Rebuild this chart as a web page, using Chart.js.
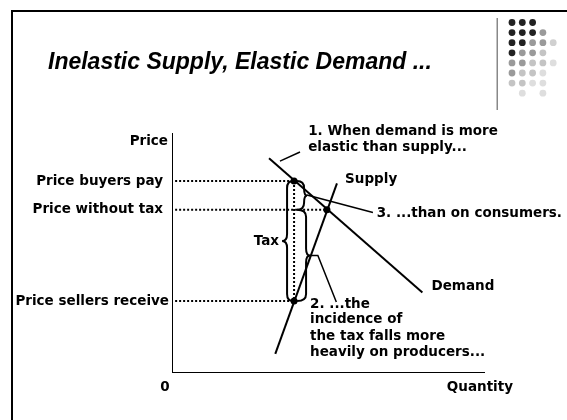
<!DOCTYPE html>
<html>
<head>
<meta charset="utf-8">
<script src="https://cdn.jsdelivr.net/npm/chart.js@4"></script>
<style>
  html, body { margin: 0; padding: 0; background: #fff; }
  canvas { display: block; }
</style>
</head>
<body>
<canvas id="chart" width="567" height="420"></canvas>
<script>
// valores (unidades do gráfico, 0..100 nos dois eixos)
const priceLabels = ['Price buyers pay', 'Price without tax', 'Price sellers receive'];
const priceLevels = [80, 68, 30];          // comprador, sem imposto, vendedor
const quantityLevels = [39, 49.5];          // com imposto, sem imposto
const demandX = [31, 80];
const demandY = [89.5, 33.5];
const supplyX = [33, 52.7];
const supplyY = [8, 79];

const [pBuyers, pEq, pSellers] = priceLevels;
const [qTax, qEq] = quantityLevels;

const FONT = '"DejaVu Sans", Verdana, sans-serif';

// textos das anotações (posição em unidades do gráfico)
const notes = [
  { text: '1. When demand is more', x: 43.5, y: 100.5 },
  { text: 'elastic than supply...', x: 43.5, y: 94 },
  { text: 'Supply', x: 55.3, y: 80.7 },
  { text: '3. ...than on consumers.', x: 65.4, y: 66.3 },
  { text: 'Demand', x: 82.9, y: 36 },
  { text: '2. ...the', x: 44.1, y: 28.75 },
  { text: 'incidence of', x: 44.1, y: 22.1 },
  { text: 'the tax falls more', x: 44.1, y: 15.4 },
  { text: 'heavily on producers...', x: 44.1, y: 8.75 },
  { text: 'Tax', x: 34.2, y: 54.6, align: 'right' }
];
const labelGap = [9, 9, 3];

const line = (pts, extra) => Object.assign({
  data: pts, showLine: true, pointRadius: 0, borderColor: '#000',
  borderWidth: 2, fill: false, tension: 0
}, extra);

const dotted = { borderDash: [2, 2], borderWidth: 2 };

const datasets = [
  line([{ x: 0, y: 100 }, { x: 0, y: 0 }, { x: 100, y: 0 }]),                 // eixos
  line([{ x: 1, y: pBuyers }, { x: qTax, y: pBuyers }], dotted),
  line([{ x: 1, y: pEq }, { x: qEq, y: pEq }], dotted),
  line([{ x: 1, y: pSellers }, { x: qTax, y: pSellers }], dotted),
  line([{ x: qTax, y: pBuyers }, { x: qTax, y: pSellers }], dotted),
  line(demandX.map((x, i) => ({ x, y: demandY[i] }))),
  line(supplyX.map((x, i) => ({ x, y: supplyY[i] }))),
  line([{ x: 34.5, y: 88.3 }, { x: 40.9, y: 92.1 }], { borderWidth: 1.5 }),
  line([{ x: 43.1, y: 74.2 }, { x: 64.2, y: 66.9 }], { borderWidth: 1.5 }),
  line([{ x: 44.3, y: 49 }, { x: 46.6, y: 49 }, { x: 52.5, y: 29.6 }], { borderWidth: 1.5 }),
  {
    data: [{ x: qTax, y: pBuyers }, { x: qEq, y: pEq }, { x: qTax, y: pSellers }],
    pointRadius: 3.5, pointBackgroundColor: '#000', pointBorderWidth: 0, showLine: false
  }
];

function brace(ctx, x0, y1, y2, dir, d, tip) {
  const xd = x0 + dir * d, xt = xd + dir * tip, ym = (y1 + y2) / 2;
  const r = Math.min(7, (y2 - y1) / 4);
  ctx.beginPath();
  ctx.moveTo(x0, y1);
  ctx.quadraticCurveTo(xd, y1, xd, y1 + r);
  ctx.lineTo(xd, ym - r);
  ctx.quadraticCurveTo(xd, ym, xt, ym);
  ctx.quadraticCurveTo(xd, ym, xd, ym + r);
  ctx.lineTo(xd, y2 - r);
  ctx.quadraticCurveTo(xd, y2, x0, y2);
  ctx.stroke();
}

const slide = {
  id: 'slide',
  beforeDraw(chart) {
    const c = chart.ctx;
    c.save();
    c.fillStyle = '#fff';
    c.fillRect(0, 0, chart.width, chart.height);
    // moldura
    c.fillStyle = '#000';
    c.fillRect(11, 10, 2, 410);
    c.fillRect(11, 10, 556, 2);
    // separador e pontos decorativos
    c.fillStyle = '#888';
    c.fillRect(496.5, 18, 1.5, 92);
    const shades = [
      ['#222', '#222', '#222', null, null],
      ['#222', '#222', '#222', '#9a9a9a', null],
      ['#222', '#222', '#9a9a9a', '#9a9a9a', '#d0d0d0'],
      ['#222', '#9a9a9a', '#9a9a9a', '#c4c4c4', null],
      ['#9a9a9a', '#9a9a9a', '#c4c4c4', '#c4c4c4', '#dedede'],
      ['#9a9a9a', '#c4c4c4', '#c4c4c4', '#dedede', null],
      ['#c4c4c4', '#c4c4c4', '#dedede', '#dedede', null],
      [null, '#dedede', null, '#dedede', null]
    ];
    shades.forEach((row, r) => row.forEach((col, k) => {
      if (!col) return;
      c.fillStyle = col;
      c.beginPath();
      c.arc(512 + k * 10.3, 22.5 + r * 10.1, 3.4, 0, Math.PI * 2);
      c.fill();
    }));
    // título
    c.fillStyle = '#000';
    c.font = 'italic bold 23px "Liberation Sans", Arial, sans-serif';
    c.textBaseline = 'alphabetic';
    c.fillText('Inelastic Supply, Elastic Demand ...', 48, 69);
    c.restore();
  },
  afterDatasetsDraw(chart) {
    const c = chart.ctx, xs = chart.scales.x, ys = chart.scales.y;
    const area = chart.chartArea;
    c.save();
    c.strokeStyle = '#000';
    c.lineWidth = 2;
    const bx = xs.getPixelForValue(qTax);
    const yB = ys.getPixelForValue(pBuyers), yE = ys.getPixelForValue(pEq), yS = ys.getPixelForValue(pSellers);
    brace(c, bx - 1, yB, yS, -1, 6, 5);
    brace(c, bx + 3, yB, yE, 1, 7, 3);
    brace(c, bx + 3, yE, yS, 1, 9, 4);

    c.fillStyle = '#000';
    c.font = 'bold 13.5px ' + FONT;
    c.textBaseline = 'middle';
    c.textAlign = 'right';
    c.fillText('Price', area.left - 4, area.top + 8);
    priceLabels.forEach((t, i) => {
      c.fillText(t, area.left - labelGap[i], ys.getPixelForValue(priceLevels[i]));
    });
    c.fillText('Quantity', area.right + 28, area.bottom + 14);
    c.textAlign = 'center';
    c.fillText('0', area.left - 7, area.bottom + 14);
    notes.forEach(n => {
      c.textAlign = n.align || 'left';
      c.fillText(n.text, xs.getPixelForValue(n.x), ys.getPixelForValue(n.y));
    });
    c.restore();
  }
};

new Chart(document.getElementById('chart').getContext('2d'), {
  type: 'scatter',
  data: { datasets },
  options: {
    animation: false,
    responsive: false,
    layout: { padding: { left: 172, right: 82, top: 133, bottom: 47 } },
    scales: {
      x: { type: 'linear', min: 0, max: 100, display: false },
      y: { type: 'linear', min: 0, max: 100, display: false }
    },
    plugins: { legend: { display: false }, tooltip: { enabled: false } }
  },
  plugins: [slide]
});
</script>
</body>
</html>
